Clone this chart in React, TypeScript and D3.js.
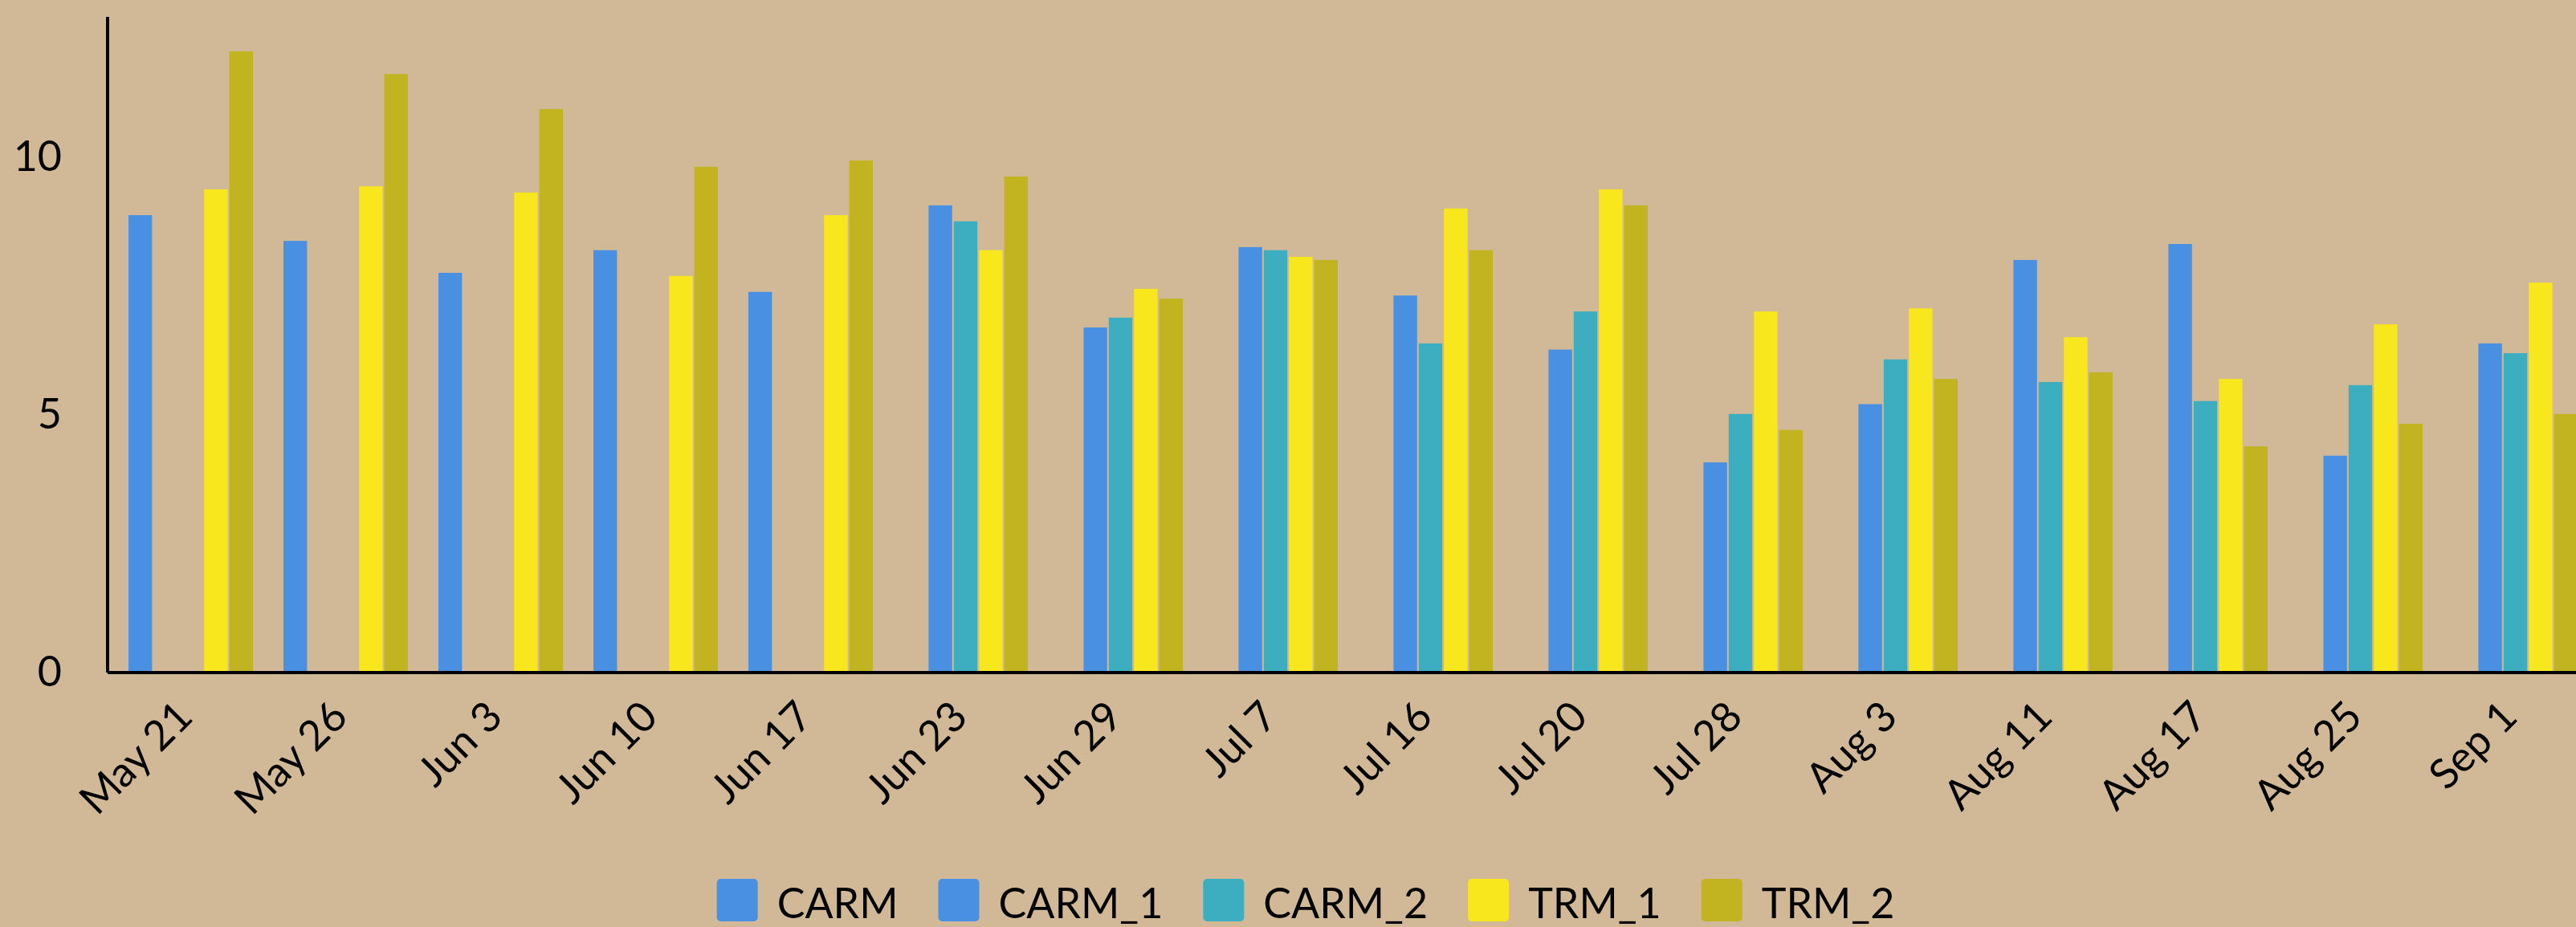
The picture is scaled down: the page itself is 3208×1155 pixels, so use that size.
import React from "react";
import * as d3 from "d3";

const categories = ["May 21", "May 26", "Jun 3", "Jun 10", "Jun 17", "Jun 23", "Jun 29", "Jul 7", "Jul 16", "Jul 20", "Jul 28", "Aug 3", "Aug 11", "Aug 17", "Aug 25", "Sep 1"];
const seriesNames = ["CARM", "CARM_1", "CARM_2", "TRM_1", "TRM_2"];
const CARM = [8.85, 8.35, 7.73, 8.17, 7.36, null, null, null, null, null, null, null, null, null, null, null];
const CARM_1 = [null, null, null, null, null, 9.04, 6.67, 8.23, 7.29, 6.24, 4.05, 5.18, 7.98, 8.29, 4.18, 6.36];
const CARM_2 = [null, null, null, null, null, 8.73, 6.86, 8.17, 6.36, 6.98, 4.99, 6.05, 5.61, 5.24, 5.55, 6.17];
const TRM_1 = [9.35, 9.41, 9.29, 7.67, 8.85, 8.17, 7.42, 8.04, 8.98, 9.35, 6.98, 7.04, 6.48, 5.67, 6.73, 7.54];
const TRM_2 = [12.03, 11.59, 10.91, 9.79, 9.91, 9.6, 7.23, 7.98, 8.17, 9.04, 4.68, 5.67, 5.8, 4.36, 4.8, 4.99];
const yTicks = [0, 5, 10];
const colors = ["#4a90e2", "#4a90e2", "#3daebf", "#f8e71c", "#c1b420"];

const seriesValues: (number | null)[][] = [CARM, CARM_1, CARM_2, TRM_1, TRM_2];

const W = 3208;
const H = 1155;
const FONT = "Lato, 'Open Sans', sans-serif";
const FS = 52;

function measure(text: string): number {
  if (typeof document === "undefined") return text.length * FS * 0.55;
  const c = document.createElement("canvas").getContext("2d");
  if (!c) return text.length * FS * 0.55;
  c.font = `${FS}px Lato`;
  return c.measureText(text).width;
}

export default function App() {
  const axisX = 134;
  const baseY = 836;
  const topY = 21;

  const x0 = d3.scaleBand<string>().domain(categories).range([141, 141 + 16 * 193]).paddingInner(0.197).paddingOuter(0.0985);
  const x1 = d3.scaleBand<string>().domain(seriesNames).range([0, x0.bandwidth()]).paddingInner(0.065).paddingOuter(0);
  const y = d3.scaleLinear().domain([0, 12.7]).range([baseY, topY]);

  // legend layout
  const swW = 51, swH = 53, swGap = 24, itemGap = 50;
  const widths = seriesNames.map((s) => swW + swGap + measure(s));
  const total = d3.sum(widths) + itemGap * (seriesNames.length - 1);
  let lx = 1626 - total / 2;
  const legendItems = seriesNames.map((s, i) => {
    const item = { name: s, x: lx, color: colors[i] };
    lx += widths[i] + itemGap;
    return item;
  });

  return (
    <svg width={W} height={H} style={{ position: "absolute", left: 0, top: 0, display: "block" }} fontFamily={FONT}>
      <rect x={0} y={0} width={W} height={H} fill="#d1b997" />
      {categories.map((c, gi) => (
        <g key={c} transform={`translate(${x0(c)},0)`}>
          {seriesNames.map((s, si) => {
            const v = seriesValues[si][gi];
            if (v == null) return null;
            return (
              <rect key={s} x={x1(s)} y={y(v)} width={x1.bandwidth()} height={baseY - y(v)} fill={colors[si]} />
            );
          })}
        </g>
      ))}
      {/* axes */}
      <line x1={axisX} x2={axisX} y1={topY} y2={baseY + 2} stroke="#000" strokeWidth={4} />
      <line x1={axisX} x2={W} y1={baseY + 2} y2={baseY + 2} stroke="#000" strokeWidth={4} />
      {yTicks.map((t) => (
        <text key={t} x={77} y={y(t)} dy="0.36em" textAnchor="end" fontSize={FS} fill="#000">
          {t}
        </text>
      ))}
      {categories.map((c) => {
        const cx = (x0(c) as number) + x0.bandwidth() / 2;
        return (
          <text key={c} transform={`translate(${cx + 5},${baseY + 60}) rotate(-45)`} textAnchor="end" fontSize={FS} fill="#000">
            {c}
          </text>
        );
      })}
      {legendItems.map((it) => (
        <g key={it.name} transform={`translate(${it.x},1095)`}>
          <rect x={0} y={0} width={swW} height={swH} rx={5} ry={5} fill={it.color} />
          <text x={swW + swGap} y={49} fontSize={FS} fill="#000">
            {it.name}
          </text>
        </g>
      ))}
    </svg>
  );
}
